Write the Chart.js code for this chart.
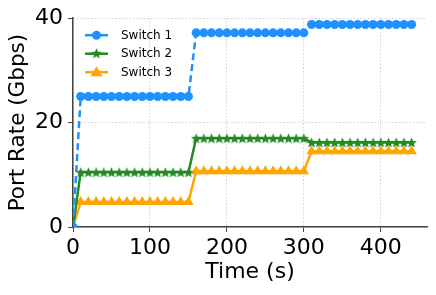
<!DOCTYPE html>
<html>
<head>
<meta charset="utf-8">
<script src="https://cdn.jsdelivr.net/npm/chart.js@4/dist/chart.umd.min.js"></script>
<style>
  body { margin: 0; background: #fff; }
</style>
</head>
<body>
<canvas id="myChart" width="436" height="295"></canvas>
<script>
// time stamps (s)
let times = [0, 10, 20, 30, 40, 50, 60, 70, 80, 90, 100, 110, 120, 130, 140, 150,
  160, 170, 180, 190, 200, 210, 220, 230, 240, 250, 260, 270, 280, 290, 300,
  310, 320, 330, 340, 350, 360, 370, 380, 390, 400, 410, 420, 430, 440];

// port rates (Gbps)
let switch1 = [0, 25, 25, 25, 25, 25, 25, 25, 25, 25, 25, 25, 25, 25, 25, 25,
  37.2, 37.2, 37.2, 37.2, 37.2, 37.2, 37.2, 37.2, 37.2, 37.2, 37.2, 37.2, 37.2, 37.2, 37.2,
  38.8, 38.8, 38.8, 38.8, 38.8, 38.8, 38.8, 38.8, 38.8, 38.8, 38.8, 38.8, 38.8, 38.8];
let switch2 = [0, 10.5, 10.5, 10.5, 10.5, 10.5, 10.5, 10.5, 10.5, 10.5, 10.5, 10.5, 10.5, 10.5, 10.5, 10.5,
  17, 17, 17, 17, 17, 17, 17, 17, 17, 17, 17, 17, 17, 17, 17,
  16.2, 16.2, 16.2, 16.2, 16.2, 16.2, 16.2, 16.2, 16.2, 16.2, 16.2, 16.2, 16.2, 16.2];
let switch3 = [0, 4.8, 4.8, 4.8, 4.8, 4.8, 4.8, 4.8, 4.8, 4.8, 4.8, 4.8, 4.8, 4.8, 4.8, 4.8,
  10.7, 10.7, 10.7, 10.7, 10.7, 10.7, 10.7, 10.7, 10.7, 10.7, 10.7, 10.7, 10.7, 10.7, 10.7,
  14.5, 14.5, 14.5, 14.5, 14.5, 14.5, 14.5, 14.5, 14.5, 14.5, 14.5, 14.5, 14.5, 14.5];

let seriesNames = ['Switch 1', 'Switch 2', 'Switch 3'];
let xTicks = [0, 100, 200, 300, 400];
let yTicks = [0, 20, 40];
let yTitle = 'Port Rate (Gbps)';

const BLUE = '#1e90ff';
const GREEN = '#228b22';
const ORANGE = '#ffa500';
const FONT = '"DejaVu Sans", sans-serif';

// filled star marker like matplotlib's '*'
function makeStar(size, color) {
  let c = document.createElement('canvas');
  c.width = size; c.height = size;
  let g = c.getContext('2d');
  let cx = size / 2, cy = size / 2 + 0.5;
  let R = size / 2, r = R * 0.45;
  g.beginPath();
  for (let i = 0; i < 10; i++) {
    let rad = i % 2 === 0 ? R : r;
    let a = -Math.PI / 2 + i * Math.PI / 5;
    g.lineTo(cx + rad * Math.cos(a), cy + rad * Math.sin(a));
  }
  g.closePath();
  g.fillStyle = color;
  g.fill();
  return c;
}
let star = makeStar(11, GREEN);

function toPoints(ys) {
  let pts = [];
  for (let i = 0; i < times.length; i++) pts.push({x: times[i], y: ys[i]});
  return pts;
}

// legend drawn inside the plot, top-left, line + marker like matplotlib
// (the y title is drawn here too so it can sit at x ~18)
const insideLegend = {
  id: 'insideLegend',
  afterDatasetsDraw(chart) {
    let ctx = chart.ctx;
    let area = chart.chartArea;
    ctx.save();
    chart.data.datasets.forEach(function(ds, i) {
      let y = area.top + 17 + i * 18.5;
      let x0 = area.left + 12;
      ctx.strokeStyle = ds.borderColor;
      ctx.lineWidth = 2.5;
      ctx.setLineDash([]);
      ctx.beginPath();
      ctx.moveTo(x0, y);
      ctx.lineTo(x0 + 23, y);
      ctx.stroke();
      let mx = x0 + 11.5;
      if (i === 0) {
        ctx.fillStyle = ds.pointBackgroundColor;
        ctx.beginPath();
        ctx.arc(mx, y, 4.5, 0, Math.PI * 2);
        ctx.fill();
      } else if (i === 1) {
        ctx.drawImage(star, mx - 5.5, y - 6);
      } else {
        ctx.fillStyle = ds.pointBackgroundColor;
        ctx.beginPath();
        ctx.moveTo(mx, y - 6);
        ctx.lineTo(mx + 6, y + 4);
        ctx.lineTo(mx - 6, y + 4);
        ctx.closePath();
        ctx.fill();
      }
      ctx.fillStyle = '#000';
      ctx.font = '12px ' + FONT;
      ctx.textBaseline = 'middle';
      ctx.textAlign = 'left';
      ctx.fillText(ds.label, x0 + 36, y + 0.5);
    });

    // y axis title
    ctx.translate(18.5, (area.top + area.bottom) / 2);
    ctx.rotate(-Math.PI / 2);
    ctx.font = '21.5px ' + FONT;
    ctx.textAlign = 'center';
    ctx.textBaseline = 'middle';
    ctx.fillStyle = '#000';
    ctx.fillText(yTitle, 0, 0);
    ctx.restore();
  }
};

let options = {
  type: 'line',
  data: {
    datasets: [{
      label: seriesNames[0],
      data: toPoints(switch1),
      borderColor: BLUE,
      backgroundColor: BLUE,
      pointBackgroundColor: BLUE,
      pointBorderWidth: 0,
      borderWidth: 2.5,
      borderDash: [7, 4],
      pointStyle: 'circle',
      pointRadius: 4.5,
      fill: false
    }, {
      label: seriesNames[1],
      data: toPoints(switch2),
      borderColor: GREEN,
      backgroundColor: GREEN,
      pointBackgroundColor: GREEN,
      borderWidth: 2.5,
      pointStyle: star,
      fill: false
    }, {
      label: seriesNames[2],
      data: toPoints(switch3),
      borderColor: ORANGE,
      backgroundColor: ORANGE,
      pointBackgroundColor: ORANGE,
      pointBorderWidth: 0,
      borderWidth: 2.5,
      pointStyle: 'triangle',
      pointRadius: 6,
      fill: false
    }]
  },
  options: {
    responsive: false,
    animation: false,
    layout: { padding: { top: 7, right: 9, left: 0, bottom: 10 } },
    plugins: {
      legend: { display: false },
      tooltip: { enabled: false }
    },
    scales: {
      x: {
        type: 'linear',
        min: 0,
        max: 460,
        afterBuildTicks: function(scale) {
          scale.ticks = xTicks.map(function(v) { return {value: v}; });
        },
        afterFit: function(scale) { scale.height = 58; },
        title: {
          display: true,
          text: 'Time (s)',
          color: '#000',
          font: { family: FONT, size: 22 },
          padding: { top: 0, bottom: 0 }
        },
        ticks: {
          color: '#000',
          font: { family: FONT, size: 22 },
          padding: 3,
          maxRotation: 0
        },
        grid: {
          color: '#cfcfcf',
          tickColor: '#444',
          tickLength: 5,
          lineWidth: 1
        },
        border: { display: true, color: '#444', width: 1.5, dash: [1.5, 2] }
      },
      y: {
        min: 0,
        max: 40,
        afterBuildTicks: function(scale) {
          scale.ticks = yTicks.map(function(v) { return {value: v}; });
        },
        afterFit: function(scale) { scale.width = 73; },
        title: { display: false },
        ticks: {
          color: '#000',
          font: { family: FONT, size: 22 },
          padding: 5
        },
        grid: {
          color: '#cfcfcf',
          tickColor: '#444',
          tickLength: 5,
          lineWidth: 1
        },
        border: { display: true, color: '#444', width: 1.5, dash: [1.5, 2] }
      }
    }
  },
  plugins: [insideLegend]
};

const myChart = new Chart(document.getElementById('myChart'), options);
</script>
</body>
</html>
